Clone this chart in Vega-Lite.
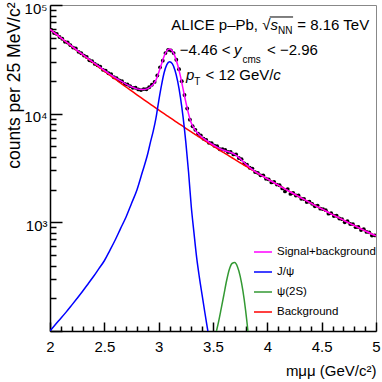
{
  "$schema": "https://vega.github.io/schema/vega-lite/v6.json",
  "width": 326,
  "height": 326,
  "autosize": "none",
  "padding": {"left": 50, "top": 5, "right": 6, "bottom": 51},
  "background": "white",
  "config": {
    "font": "Liberation Sans",
    "view": {"stroke": "#888888", "strokeWidth": 1},
    "axis": {"grid": false}
  },
  "datasets": {
    "dots": [
      {"x": 2.0125, "y": 58920}, {"x": 2.0375, "y": 55190}, {"x": 2.0625, "y": 54190}, {"x": 2.0875, "y": 50780},
      {"x": 2.1125, "y": 48940}, {"x": 2.1375, "y": 45820}, {"x": 2.1625, "y": 45120}, {"x": 2.1875, "y": 42700},
      {"x": 2.2125, "y": 40560}, {"x": 2.2375, "y": 39830}, {"x": 2.2625, "y": 37050}, {"x": 2.2875, "y": 35980},
      {"x": 2.3125, "y": 34250}, {"x": 2.3375, "y": 33310}, {"x": 2.3625, "y": 31040}, {"x": 2.3875, "y": 30390},
      {"x": 2.4125, "y": 28700}, {"x": 2.4375, "y": 27840}, {"x": 2.4625, "y": 27030}, {"x": 2.4875, "y": 25310},
      {"x": 2.5125, "y": 24800}, {"x": 2.5375, "y": 23540}, {"x": 2.5625, "y": 23120}, {"x": 2.5875, "y": 21620},
      {"x": 2.6125, "y": 21190}, {"x": 2.6375, "y": 20230}, {"x": 2.6625, "y": 19890}, {"x": 2.6875, "y": 18730},
      {"x": 2.7125, "y": 18560}, {"x": 2.7375, "y": 17940}, {"x": 2.7625, "y": 17290}, {"x": 2.7875, "y": 17300},
      {"x": 2.8125, "y": 16720}, {"x": 2.8375, "y": 16480}, {"x": 2.8625, "y": 16830}, {"x": 2.8875, "y": 16780},
      {"x": 2.9125, "y": 17500}, {"x": 2.9375, "y": 18470}, {"x": 2.9625, "y": 19590}, {"x": 2.9875, "y": 22460},
      {"x": 3.0125, "y": 26680}, {"x": 3.0375, "y": 30740}, {"x": 3.0625, "y": 36090}, {"x": 3.0875, "y": 38650},
      {"x": 3.1125, "y": 38140}, {"x": 3.1375, "y": 36080}, {"x": 3.1625, "y": 31330}, {"x": 3.1875, "y": 25610},
      {"x": 3.2125, "y": 19890}, {"x": 3.2375, "y": 14850}, {"x": 3.2625, "y": 11170}, {"x": 3.2875, "y": 8811},
      {"x": 3.3125, "y": 7651}, {"x": 3.3375, "y": 7095}, {"x": 3.3625, "y": 6533}, {"x": 3.3875, "y": 6297},
      {"x": 3.4125, "y": 5880}, {"x": 3.4375, "y": 5726}, {"x": 3.4625, "y": 5396}, {"x": 3.4875, "y": 5340},
      {"x": 3.5125, "y": 5061}, {"x": 3.5375, "y": 5019}, {"x": 3.5625, "y": 4703}, {"x": 3.5875, "y": 4700},
      {"x": 3.6125, "y": 4637}, {"x": 3.6375, "y": 4442}, {"x": 3.6625, "y": 4442}, {"x": 3.6875, "y": 4220},
      {"x": 3.7125, "y": 4218}, {"x": 3.7375, "y": 3911}, {"x": 3.7625, "y": 3805}, {"x": 3.7875, "y": 3476},
      {"x": 3.8125, "y": 3387}, {"x": 3.8375, "y": 3182}, {"x": 3.8625, "y": 3121}, {"x": 3.8875, "y": 2898},
      {"x": 3.9125, "y": 2854}, {"x": 3.9375, "y": 2705}, {"x": 3.9625, "y": 2707}, {"x": 3.9875, "y": 2516},
      {"x": 4.0125, "y": 2482}, {"x": 4.0375, "y": 2330}, {"x": 4.0625, "y": 2358}, {"x": 4.0875, "y": 2226},
      {"x": 4.1125, "y": 2196}, {"x": 4.1375, "y": 2053}, {"x": 4.1625, "y": 1927}, {"x": 4.1875, "y": 2023},
      {"x": 4.2125, "y": 1826}, {"x": 4.2375, "y": 1860}, {"x": 4.2625, "y": 1766}, {"x": 4.2875, "y": 1764},
      {"x": 4.3125, "y": 1650}, {"x": 4.3375, "y": 1639}, {"x": 4.3625, "y": 1535}, {"x": 4.3875, "y": 1549},
      {"x": 4.4125, "y": 1479}, {"x": 4.4375, "y": 1405}, {"x": 4.4625, "y": 1426}, {"x": 4.4875, "y": 1336},
      {"x": 4.5125, "y": 1322}, {"x": 4.5375, "y": 1295}, {"x": 4.5625, "y": 1202}, {"x": 4.5875, "y": 1214},
      {"x": 4.6125, "y": 1144}, {"x": 4.6375, "y": 1151}, {"x": 4.6625, "y": 1084}, {"x": 4.6875, "y": 1069},
      {"x": 4.7125, "y": 1002}, {"x": 4.7375, "y": 1024}, {"x": 4.7625, "y": 965}, {"x": 4.7875, "y": 962},
      {"x": 4.8125, "y": 903}, {"x": 4.8375, "y": 905}, {"x": 4.8625, "y": 849}, {"x": 4.8875, "y": 864},
      {"x": 4.9125, "y": 816}, {"x": 4.9375, "y": 809}, {"x": 4.9625, "y": 756}, {"x": 4.9875, "y": 759}
    ],
    "curves": [
      {"x": 2.0, "bg": 59700, "jpsi": 100, "sb": 59800},
      {"x": 2.05, "bg": 54500, "jpsi": 115, "sb": 54615},
      {"x": 2.1, "bg": 49770, "jpsi": 131, "sb": 49901},
      {"x": 2.15, "bg": 45480, "jpsi": 150, "sb": 45630},
      {"x": 2.2, "bg": 41590, "jpsi": 173, "sb": 41763},
      {"x": 2.25, "bg": 38060, "jpsi": 200, "sb": 38260},
      {"x": 2.3, "bg": 34840, "jpsi": 232, "sb": 35072},
      {"x": 2.35, "bg": 31920, "jpsi": 271, "sb": 32191},
      {"x": 2.4, "bg": 29250, "jpsi": 317, "sb": 29567},
      {"x": 2.45, "bg": 26830, "jpsi": 375, "sb": 27205},
      {"x": 2.5, "bg": 24630, "jpsi": 443, "sb": 25073},
      {"x": 2.55, "bg": 22620, "jpsi": 550, "sb": 23170},
      {"x": 2.6, "bg": 20790, "jpsi": 688, "sb": 21478},
      {"x": 2.65, "bg": 19110, "jpsi": 880, "sb": 19990},
      {"x": 2.7, "bg": 17590, "jpsi": 1120, "sb": 18710},
      {"x": 2.75, "bg": 16200, "jpsi": 1491, "sb": 17691},
      {"x": 2.8, "bg": 14920, "jpsi": 1985, "sb": 16905},
      {"x": 2.85, "bg": 13760, "jpsi": 2900, "sb": 16660},
      {"x": 2.9, "bg": 12690, "jpsi": 4300, "sb": 16990},
      {"x": 2.925, "bg": 12190, "jpsi": 5500, "sb": 17690},
      {"x": 2.95, "bg": 11710, "jpsi": 6900, "sb": 18610},
      {"x": 2.975, "bg": 11250, "jpsi": 9100, "sb": 20350},
      {"x": 3.0, "bg": 10810, "jpsi": 13000, "sb": 23810},
      {"x": 3.025, "bg": 10390, "jpsi": 18010, "sb": 28400},
      {"x": 3.05, "bg": 9990, "jpsi": 23800, "sb": 33790},
      {"x": 3.075, "bg": 9610, "jpsi": 28250, "sb": 37860},
      {"x": 3.1, "bg": 9240, "jpsi": 30080, "sb": 39320},
      {"x": 3.125, "bg": 8888, "jpsi": 28860, "sb": 37748},
      {"x": 3.15, "bg": 8550, "jpsi": 25130, "sb": 33680},
      {"x": 3.175, "bg": 8229, "jpsi": 19840, "sb": 28069},
      {"x": 3.2, "bg": 7920, "jpsi": 14210, "sb": 22130},
      {"x": 3.225, "bg": 7620, "jpsi": 9229, "sb": 16849},
      {"x": 3.25, "bg": 7335, "jpsi": 5436, "sb": 12771},
      {"x": 3.275, "bg": 7062, "jpsi": 2904, "sb": 9966},
      {"x": 3.3, "bg": 6800, "jpsi": 1400, "sb": 8200},
      {"x": 3.325, "bg": 6548, "jpsi": 800, "sb": 7348},
      {"x": 3.35, "bg": 6305, "jpsi": 470, "sb": 6775},
      {"x": 3.375, "bg": 6075, "jpsi": 310, "sb": 6385},
      {"x": 3.4, "bg": 5853, "jpsi": 214, "sb": 6067},
      {"x": 3.425, "bg": 5642, "jpsi": 148, "psi": 20, "sb": 5810},
      {"x": 3.45, "bg": 5437, "jpsi": 104, "psi": 35, "sb": 5576},
      {"x": 3.475, "bg": 5241, "jpsi": 73, "psi": 50, "sb": 5364},
      {"x": 3.5, "bg": 5052, "jpsi": 52, "psi": 70, "sb": 5174},
      {"x": 3.525, "bg": 4872, "psi": 93, "sb": 5002},
      {"x": 3.55, "bg": 4697, "psi": 120, "sb": 4843},
      {"x": 3.575, "bg": 4532, "psi": 160, "sb": 4710},
      {"x": 3.6, "bg": 4371, "psi": 215, "sb": 4599},
      {"x": 3.625, "bg": 4219, "psi": 290, "sb": 4518},
      {"x": 3.65, "bg": 4070, "psi": 368, "sb": 4444},
      {"x": 3.675, "bg": 3929, "psi": 418, "sb": 4347},
      {"x": 3.7, "bg": 3793, "psi": 426, "sb": 4219},
      {"x": 3.725, "bg": 3661, "psi": 390, "sb": 4051},
      {"x": 3.75, "bg": 3535, "psi": 320, "sb": 3855},
      {"x": 3.775, "bg": 3414, "psi": 235, "sb": 3649},
      {"x": 3.8, "bg": 3298, "psi": 155, "sb": 3453},
      {"x": 3.825, "bg": 3187, "psi": 92, "sb": 3279},
      {"x": 3.85, "bg": 3077, "psi": 49, "sb": 3126},
      {"x": 3.875, "bg": 2974, "psi": 24, "sb": 2998},
      {"x": 3.9, "bg": 2873, "sb": 2883},
      {"x": 3.95, "bg": 2686, "sb": 2688},
      {"x": 4.0, "bg": 2512, "sb": 2512},
      {"x": 4.05, "bg": 2350, "sb": 2350},
      {"x": 4.1, "bg": 2200, "sb": 2200},
      {"x": 4.15, "bg": 2062, "sb": 2062},
      {"x": 4.2, "bg": 1933, "sb": 1933},
      {"x": 4.25, "bg": 1813, "sb": 1813},
      {"x": 4.3, "bg": 1702, "sb": 1702},
      {"x": 4.35, "bg": 1598, "sb": 1598},
      {"x": 4.4, "bg": 1502, "sb": 1502},
      {"x": 4.45, "bg": 1412, "sb": 1412},
      {"x": 4.5, "bg": 1329, "sb": 1329},
      {"x": 4.55, "bg": 1251, "sb": 1251},
      {"x": 4.6, "bg": 1179, "sb": 1179},
      {"x": 4.65, "bg": 1111, "sb": 1111},
      {"x": 4.7, "bg": 1048, "sb": 1048},
      {"x": 4.75, "bg": 989, "sb": 989},
      {"x": 4.8, "bg": 935, "sb": 935},
      {"x": 4.85, "bg": 883, "sb": 883},
      {"x": 4.9, "bg": 835, "sb": 835},
      {"x": 4.95, "bg": 790, "sb": 790},
      {"x": 5.0, "bg": 750, "sb": 750}
    ]
  },
  "resolve": {"axis": {"x": "independent", "y": "independent"}},
  "layer": [
    {
      "data": {"name": "dots"},
      "mark": {"type": "point", "filled": true, "color": "black", "size": 15, "opacity": 1, "clip": true},
      "encoding": {
        "x": {
          "field": "x", "type": "quantitative",
          "scale": {"domain": [2, 5], "nice": false, "zero": false},
          "axis": {
            "orient": "bottom", "values": [2, 2.5, 3, 3.5, 4, 4.5, 5], "format": "~g",
            "tickSize": -9, "tickWidth": 1.5, "tickColor": "black",
            "domainColor": "black", "domainWidth": 1.5,
            "labelPadding": 17, "labelFontSize": 15, "labelColor": "black", "labelFlush": false, "labelOverlap": false,
            "title": "mμμ (GeV/c²)", "titleFontSize": 15, "titleFontWeight": "normal", "titleColor": "black",
            "titleAnchor": "end", "titleAlign": "right", "titleX": 326, "titleY": 44, "titleBaseline": "alphabetic"
          }
        },
        "y": {
          "field": "y", "type": "quantitative",
          "scale": {"type": "log", "domain": [100, 100000], "nice": false},
          "axis": {
            "orient": "left", "values": [100, 1000, 10000, 100000],
            "labelExpr": "datum.value == 1000 ? '10³' : datum.value == 10000 ? '10⁴' : datum.value == 100000 ? '10⁵' : ''",
            "tickSize": -12, "tickWidth": 1.5, "tickColor": "black",
            "domainColor": "black", "domainWidth": 1.5,
            "labelPadding": 15, "labelFontSize": 15, "labelColor": "black", "labelBaseline": "middle", "labelOffset": 3,
            "labelOverlap": false, "labelFlush": false,
            "title": "counts per 25 MeV/c²", "titleFontSize": 17.5, "titleFontWeight": "normal", "titleColor": "black",
            "titleAngle": 270, "titleAlign": "right", "titleBaseline": "alphabetic", "titleX": -31, "titleY": -3
          }
        }
      }
    },
    {
      "data": {"name": "curves"},
      "mark": {"type": "line", "strokeWidth": 1.5, "clip": true, "interpolate": "monotone"},
      "encoding": {
        "x": {
          "field": "x", "type": "quantitative",
          "axis": {
            "orient": "bottom",
            "values": [2.1, 2.2, 2.3, 2.4, 2.6, 2.7, 2.8, 2.9, 3.1, 3.2, 3.3, 3.4, 3.6, 3.7, 3.8, 3.9, 4.1, 4.2, 4.3, 4.4, 4.6, 4.7, 4.8, 4.9],
            "tickSize": -5, "tickWidth": 1.5, "tickColor": "black", "labels": false, "domain": false, "title": null
          }
        },
        "y": {
          "field": "bg", "type": "quantitative",
          "axis": {
            "orient": "left",
            "values": [200, 300, 400, 500, 600, 700, 800, 900, 2000, 3000, 4000, 5000, 6000, 7000, 8000, 9000, 20000, 30000, 40000, 50000, 60000, 70000, 80000, 90000],
            "tickSize": -6, "tickWidth": 1.5, "tickColor": "black", "labels": false, "domain": false, "title": null
          }
        },
        "color": {
          "datum": "Background", "type": "nominal",
          "scale": {
            "domain": ["Signal+background", "J/ψ", "ψ(2S)", "Background"],
            "range": ["#ff00ff", "#0000ff", "#339933", "#ff0000"]
          },
          "legend": {
            "orient": "none", "legendX": 203, "legendY": 237, "title": null,
            "symbolType": "stroke", "symbolSize": 324, "symbolStrokeWidth": 1.5,
            "labelFontSize": 11.5, "labelColor": "black", "labelFont": "Liberation Sans",
            "labelOffset": 4, "rowPadding": 4, "padding": 0, "symbolOffset": 0
          }
        }
      }
    },
    {
      "data": {"name": "curves"},
      "mark": {"type": "line", "strokeWidth": 1.5, "clip": true, "interpolate": "monotone"},
      "encoding": {
        "x": {"field": "x", "type": "quantitative", "axis": null},
        "y": {"field": "jpsi", "type": "quantitative", "axis": null},
        "color": {"datum": "J/ψ", "type": "nominal"}
      }
    },
    {
      "data": {"name": "curves"},
      "mark": {"type": "line", "strokeWidth": 1.5, "clip": true, "interpolate": "monotone"},
      "encoding": {
        "x": {"field": "x", "type": "quantitative", "axis": null},
        "y": {"field": "psi", "type": "quantitative", "axis": null},
        "color": {"datum": "ψ(2S)", "type": "nominal"}
      }
    },
    {
      "data": {"name": "curves"},
      "mark": {"type": "line", "strokeWidth": 1.5, "clip": true, "interpolate": "monotone"},
      "encoding": {
        "x": {"field": "x", "type": "quantitative", "axis": null},
        "y": {"field": "sb", "type": "quantitative", "axis": null},
        "color": {"datum": "Signal+background", "type": "nominal"}
      }
    },
    {
      "data": {"values": [
        {"x": 3.1163, "y": 58880, "t": "ALICE p–Pb,"},
        {"x": 3.9528, "y": 58880, "t": "√"},
        {"x": 4.2758, "y": 58880, "t": "= 8.16 TeV"},
        {"x": 3.1936, "y": 34670, "t": "−4.46 <"},
        {"x": 3.9969, "y": 34670, "t": "< −2.96"},
        {"x": 3.431, "y": 20400, "t": "< 12 GeV/"}
      ]},
      "mark": {"type": "text", "align": "left", "baseline": "alphabetic", "fontSize": 15, "font": "Liberation Sans", "color": "black"},
      "encoding": {
        "x": {"field": "x", "type": "quantitative", "axis": null},
        "y": {"field": "y", "type": "quantitative", "axis": null},
        "text": {"field": "t"}
      }
    },
    {
      "data": {"values": [
        {"x": 4.0282, "y": 58880, "t": "s"},
        {"x": 3.6933, "y": 34670, "t": "y"},
        {"x": 3.2515, "y": 20400, "t": "p"},
        {"x": 4.054, "y": 20400, "t": "c"}
      ]},
      "mark": {"type": "text", "align": "left", "baseline": "alphabetic", "fontSize": 15, "fontStyle": "italic", "font": "Liberation Sans", "color": "black"},
      "encoding": {
        "x": {"field": "x", "type": "quantitative", "axis": null},
        "y": {"field": "y", "type": "quantitative", "axis": null},
        "text": {"field": "t"}
      }
    },
    {
      "data": {"values": [
        {"x": 4.0973, "y": 54090, "t": "NN"},
        {"x": 3.7715, "y": 29260, "t": "cms"},
        {"x": 3.3279, "y": 18350, "t": "T"}
      ]},
      "mark": {"type": "text", "align": "left", "baseline": "alphabetic", "fontSize": 10, "font": "Liberation Sans", "color": "black"},
      "encoding": {
        "x": {"field": "x", "type": "quantitative", "axis": null},
        "y": {"field": "y", "type": "quantitative", "axis": null},
        "text": {"field": "t"}
      }
    },
    {
      "data": {"values": [{"x": 4.022, "x2": 4.237, "y": 77550}]},
      "mark": {"type": "rule", "color": "black", "strokeWidth": 1},
      "encoding": {
        "x": {"field": "x", "type": "quantitative", "axis": null},
        "x2": {"field": "x2"},
        "y": {"field": "y", "type": "quantitative", "axis": null}
      }
    }
  ]
}
